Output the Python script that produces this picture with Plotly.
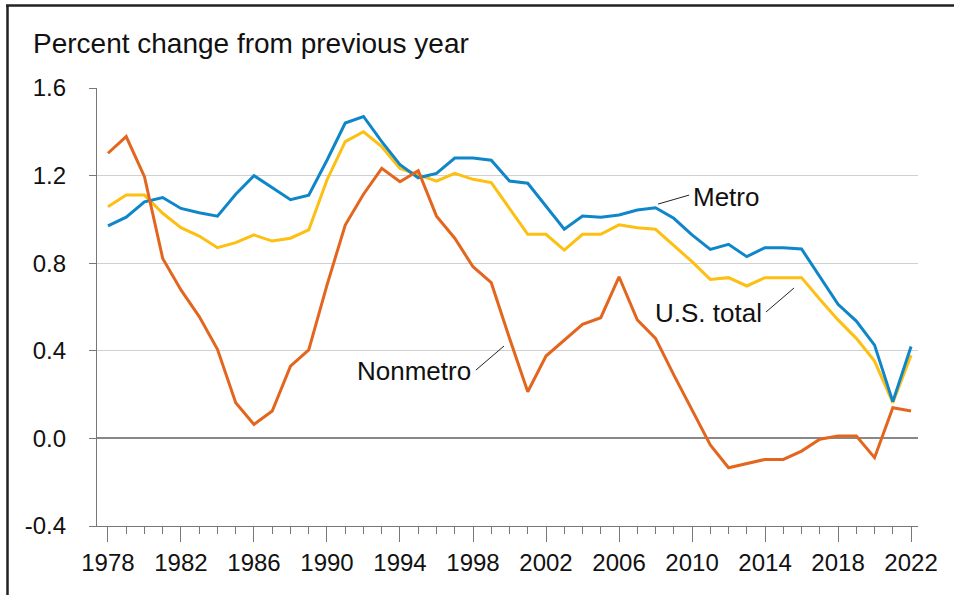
import plotly.graph_objects as go

years = list(range(1978, 2023))

metro = [0.97, 1.01, 1.08, 1.10, 1.05, 1.03, 1.015, 1.115, 1.20, 1.145, 1.09, 1.11,
         1.27, 1.44, 1.47, 1.355, 1.25, 1.19, 1.21, 1.28, 1.28, 1.27, 1.175, 1.165,
         1.06, 0.955, 1.015, 1.01, 1.02, 1.043, 1.053, 1.005, 0.929, 0.863, 0.886,
         0.83, 0.871, 0.871, 0.865, 0.738, 0.612, 0.536, 0.426, 0.168, 0.42]

us_total = [1.058, 1.111, 1.111, 1.028, 0.962, 0.924, 0.871, 0.894, 0.929, 0.901, 0.914, 0.952,
            1.18, 1.355, 1.40, 1.332, 1.233, 1.203, 1.175, 1.21, 1.183, 1.168, 1.05, 0.932,
            0.932, 0.86, 0.932, 0.932, 0.975, 0.962, 0.955, 0.883, 0.807, 0.726, 0.734,
            0.696, 0.734, 0.734, 0.734, 0.635, 0.541, 0.457, 0.353, 0.163, 0.38]

nonmetro = [1.302, 1.378, 1.195, 0.822, 0.678, 0.556, 0.407, 0.163, 0.064, 0.125, 0.33, 0.404,
            0.70, 0.974, 1.115, 1.233, 1.172, 1.222, 1.015, 0.914, 0.784, 0.711, 0.457, 0.213,
            0.376, 0.449, 0.521, 0.551, 0.738, 0.541, 0.457, 0.29, 0.133, -0.03, -0.134,
            -0.114, -0.096, -0.096, -0.058, -0.004, 0.011, 0.011, -0.088, 0.14, 0.125]

x_ticks = list(range(1978, 2023, 4))
y_ticks = [-0.4, 0.0, 0.4, 0.8, 1.2, 1.6]
y_tick_labels = ["-0.4", "0.0", "0.4", "0.8", "1.2", "1.6"]

BLUE = "#0f86c9"
YELLOW = "#fdbf12"
ORANGE = "#e3661f"
FONT = "Liberation Sans"

fig = go.Figure()
fig.add_trace(go.Scatter(x=years, y=us_total, mode="lines", name="U.S. total",
                         line=dict(color=YELLOW, width=3)))
fig.add_trace(go.Scatter(x=years, y=metro, mode="lines", name="Metro",
                         line=dict(color=BLUE, width=3)))
fig.add_trace(go.Scatter(x=years, y=nonmetro, mode="lines", name="Nonmetro",
                         line=dict(color=ORANGE, width=3)))

W, H = 954, 595
L, R, T, B = 97, 36, 88, 69
pw, ph = W - L - R, H - T - B

def px_x(p):
    return (p - L) / pw

def px_y(p):
    return (H - B - p) / ph

fig.update_layout(
    width=W, height=H,
    margin=dict(l=L, r=R, t=T, b=B),
    plot_bgcolor="white", paper_bgcolor="white",
    showlegend=False,
    font=dict(family=FONT, color="#111111"),
    xaxis=dict(
        range=[1977.4, 2022.38],
        tickvals=x_ticks, ticktext=[str(v) for v in x_ticks],
        ticks="outside", ticklen=15, tickcolor="#777777", tickwidth=1.3,
        showline=True, linecolor="#777777", linewidth=1.3,
        showgrid=False, zeroline=False,
        tickfont=dict(size=24, family=FONT, color="#111111"),
        minor=dict(dtick=1, tick0=1978, ticks="outside", ticklen=7,
                   tickcolor="#777777", tickwidth=1.3, showgrid=False),
    ),
    yaxis=dict(
        range=[-0.4, 1.6],
        tickvals=y_ticks, ticktext=y_tick_labels,
        ticks="outside", ticklen=7, tickcolor="#777777", tickwidth=1.3,
        showline=True, linecolor="#777777", linewidth=1.3,
        showgrid=True, gridcolor="#d0d0d0", gridwidth=1,
        zeroline=True, zerolinecolor="#888888", zerolinewidth=1.6,
        ticklabelstandoff=18,
        tickfont=dict(size=24, family=FONT, color="#111111"),
    ),
)

# Frame lines (left and top)
fig.add_shape(type="line", xref="paper", yref="paper",
              x0=px_x(7.5), x1=px_x(7.5), y0=px_y(5), y1=px_y(H),
              line=dict(color="#222222", width=2.5))
fig.add_shape(type="line", xref="paper", yref="paper",
              x0=px_x(6), x1=px_x(W), y0=px_y(5.5), y1=px_y(5.5),
              line=dict(color="#222222", width=2.5))

# Title
fig.add_annotation(text="Percent change from previous year", xref="paper", yref="paper",
                   x=px_x(31), y=px_y(44), xanchor="left", yanchor="middle",
                   showarrow=False, font=dict(size=28, family=FONT, color="#111111"))

# Series labels with leader lines
fig.add_annotation(text="Nonmetro", x=1998.0, y=0.31, xanchor="right", yanchor="middle",
                   showarrow=False, font=dict(size=26, family=FONT, color="#111111"))
fig.add_shape(type="line", x0=1998.16, y0=0.312, x1=1999.7, y1=0.422,
              line=dict(color="#222222", width=1))

fig.add_annotation(text="Metro", x=2009.95, y=1.102, xanchor="left", yanchor="middle",
                   showarrow=False, font=dict(size=26, family=FONT, color="#111111"))
fig.add_shape(type="line", x0=2008.14, y0=1.07, x1=2009.84, y1=1.111,
              line=dict(color="#222222", width=1))

fig.add_annotation(text="U.S. total", x=2013.95, y=0.573, xanchor="right", yanchor="middle",
                   showarrow=False, font=dict(size=26, family=FONT, color="#111111"))
fig.add_shape(type="line", x0=2014.05, y0=0.577, x1=2015.59, y1=0.687,
              line=dict(color="#222222", width=1))

fig.write_html("out.html",
               config={"displayModeBar": False},
               post_script="document.body.style.margin='0';document.body.style.overflow='hidden';")
